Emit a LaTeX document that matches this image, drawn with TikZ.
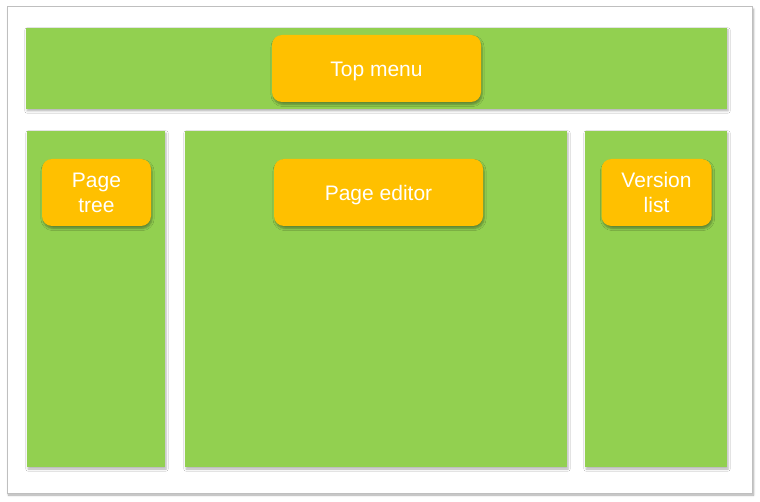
\documentclass[tikz,border=0pt]{standalone}
\usepackage{fontspec}
\setmainfont{Liberation Sans}
\usetikzlibrary{shadows.blur}
\definecolor{panelgreen}{HTML}{92D050}
\definecolor{boxorange}{HTML}{FFC000}
\definecolor{framegray}{HTML}{BFBFBF}
\tikzset{
  frame/.style={draw=framegray, line width=1pt, fill=white, blur shadow={shadow xshift=1.5pt, shadow yshift=-2pt, shadow blur steps=6, shadow opacity=35}},
  panel/.style={fill=panelgreen, draw=none, blur shadow={shadow xshift=1pt, shadow yshift=-2pt, shadow blur steps=5, shadow opacity=30}},
  label/.style={fill=boxorange, draw=none, rounded corners=10pt, text=white, align=center,
    font=\fontsize{21}{25}\selectfont, inner sep=0pt,
    blur shadow={shadow xshift=1pt, shadow yshift=-2.5pt, shadow blur steps=5, shadow opacity=35}},
  oneline/.style={label, text height=20.5pt, text depth=4.4pt}
}
\begin{document}
\begin{tikzpicture}[x=1pt,y=-1pt]
\useasboundingbox (0,0) rectangle (760,502);
\node[frame, minimum width=745pt, minimum height=486pt, inner sep=0pt] (outer) at (379.5,250) {};
\node[panel, minimum width=701pt, minimum height=81pt, inner sep=0pt] (topbar) at (376.5,68.5) {};
\node[panel, minimum width=138pt, minimum height=336pt, inner sep=0pt] (leftp) at (96,299) {};
\node[panel, minimum width=382pt, minimum height=336pt, inner sep=0pt] (midp) at (376,299) {};
\node[panel, minimum width=142pt, minimum height=336pt, inner sep=0pt] (rightp) at (656,299) {};
\node[oneline, minimum width=209pt, minimum height=67pt] (topmenu) at (376.5,68.5) {Top menu};
\node[label, minimum width=109pt, minimum height=67pt] (pagetree) at (96.5,192.5) {Page\\tree};
\node[oneline, minimum width=209pt, minimum height=67pt] (pageeditor) at (378.5,192.5) {Page editor};
\node[label, minimum width=110pt, minimum height=67pt] (versionlist) at (656.5,192.5) {Version\\list};
\end{tikzpicture}
\end{document}
